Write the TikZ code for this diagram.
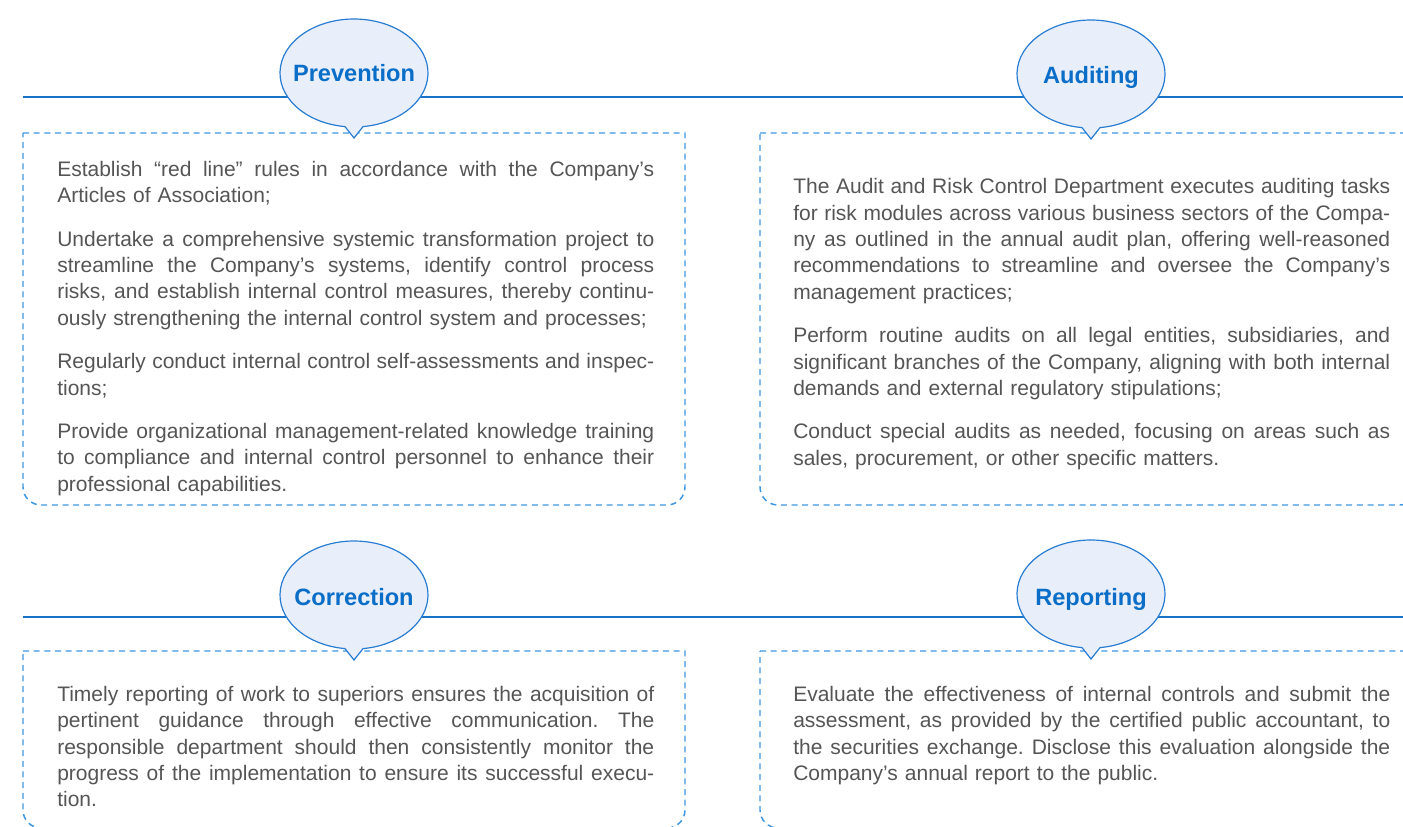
\documentclass[tikz,border=0pt]{standalone}
\usepackage{fontspec}
\setmainfont{Liberation Sans}
\definecolor{lineblue}{RGB}{26,115,200}
\definecolor{dashblue}{RGB}{60,150,225}
\definecolor{bubfill}{RGB}{232,238,250}
\definecolor{bubline}{RGB}{40,125,210}
\definecolor{titleblue}{RGB}{10,110,200}
\definecolor{bodygray}{RGB}{85,85,85}
\newcommand\jl[1]{\hbox to 447.75pt{\spaceskip=\fontdimen2\font plus 1fil\relax\strut #1}}
\newcommand\lastl[1]{\hbox to 447.75pt{\strut #1\hfil}}
\newcommand\pgap{\vskip 12.75pt}
\tikzset{
  hline/.style={draw=lineblue,line width=1.5pt},
  dbox/.style={draw=dashblue,line width=1.1pt,dash pattern=on 4.5pt off 3.5pt},
  bub/.style={fill=bubfill,draw=bubline,line width=0.9pt},
  title/.style={text=titleblue,font=\fontsize{17.7}{20}\selectfont\bfseries,inner sep=0pt,anchor=base},
  body/.style={text=bodygray,font=\fontsize{15.75}{19.8}\selectfont\frenchspacing,text width=447.75pt,inner sep=0pt,anchor=north west}
}
\newcommand\mybubble[5]{%
  \path[bub] (#2,#3) ++(97:74 and 54) arc[start angle=97,end angle=443,x radius=74,y radius=54] -- (#2,#3+65) -- cycle;
  \node[title] (#1) at (#2,#4) {#5};}
\begin{document}
\begin{tikzpicture}[x=0.75pt,y=-0.75pt]
\useasboundingbox (0,0) rectangle (1403,826);
\clip (0,0) rectangle (1403,826);
% horizontal lines
\draw[hline] (23,97) -- (1403,97);
\draw[hline] (23,617) -- (1403,617);
% dashed boxes
\draw[dbox] (23,133) -- (685,133) -- (685,487) arc[start angle=0,end angle=90,radius=18] -- (41,505) arc[start angle=90,end angle=180,radius=18] -- cycle;
\draw[dbox] (760,133) -- (1418,133) -- (1418,487) arc[start angle=0,end angle=90,radius=18] -- (778,505) arc[start angle=90,end angle=180,radius=18] -- cycle;
\draw[dbox] (23,651) -- (685,651) -- (685,810) arc[start angle=0,end angle=90,radius=18] -- (41,828) arc[start angle=90,end angle=180,radius=18] -- cycle;
\draw[dbox] (760,651) -- (1418,651) -- (1418,810) arc[start angle=0,end angle=90,radius=18] -- (778,828) arc[start angle=90,end angle=180,radius=18] -- cycle;
% bubbles
\mybubble{prev}{354}{73}{81}{Prevention}
\mybubble{audit}{1091}{74}{83.5}{Auditing}
\mybubble{corr}{354}{595}{605.5}{Correction}
\mybubble{rep}{1091}{594}{605}{Reporting}
% texts
\node[body] (t1) at (57,157.5) {%
\jl{Establish “red line” rules in accordance with the Company’s}
\lastl{Articles of Association;}
\pgap
\jl{Undertake a comprehensive systemic transformation project to}
\jl{streamline the Company’s systems, identify control process}
\jl{risks, and establish internal control measures, thereby continu-}
\lastl{ously strengthening the internal control system and processes;}
\pgap
\jl{Regularly conduct internal control self-assessments and inspec-}
\lastl{tions;}
\pgap
\jl{Provide organizational management-related knowledge training}
\jl{to compliance and internal control personnel to enhance their}
\lastl{professional capabilities.}};
\node[body] (t2) at (793,175) {%
\jl{The Audit and Risk Control Department executes auditing tasks}
\jl{for risk modules across various business sectors of the Compa-}
\jl{ny as outlined in the annual audit plan, offering well-reasoned}
\jl{recommendations to streamline and oversee the Company’s}
\lastl{management practices;}
\pgap
\jl{Perform routine audits on all legal entities, subsidiaries, and}
\jl{significant branches of the Company, aligning with both internal}
\lastl{demands and external regulatory stipulations;}
\pgap
\jl{Conduct special audits as needed, focusing on areas such as}
\lastl{sales, procurement, or other specific matters.}};
\node[body] (t3) at (57,682.5) {%
\jl{Timely reporting of work to superiors ensures the acquisition of}
\jl{pertinent guidance through effective communication. The}
\jl{responsible department should then consistently monitor the}
\jl{progress of the implementation to ensure its successful execu-}
\lastl{tion.}};
\node[body] (t4) at (793,682.5) {%
\jl{Evaluate the effectiveness of internal controls and submit the}
\jl{assessment, as provided by the certified public accountant, to}
\jl{the securities exchange. Disclose this evaluation alongside the}
\lastl{Company’s annual report to the public.}};
\end{tikzpicture}
\end{document}
